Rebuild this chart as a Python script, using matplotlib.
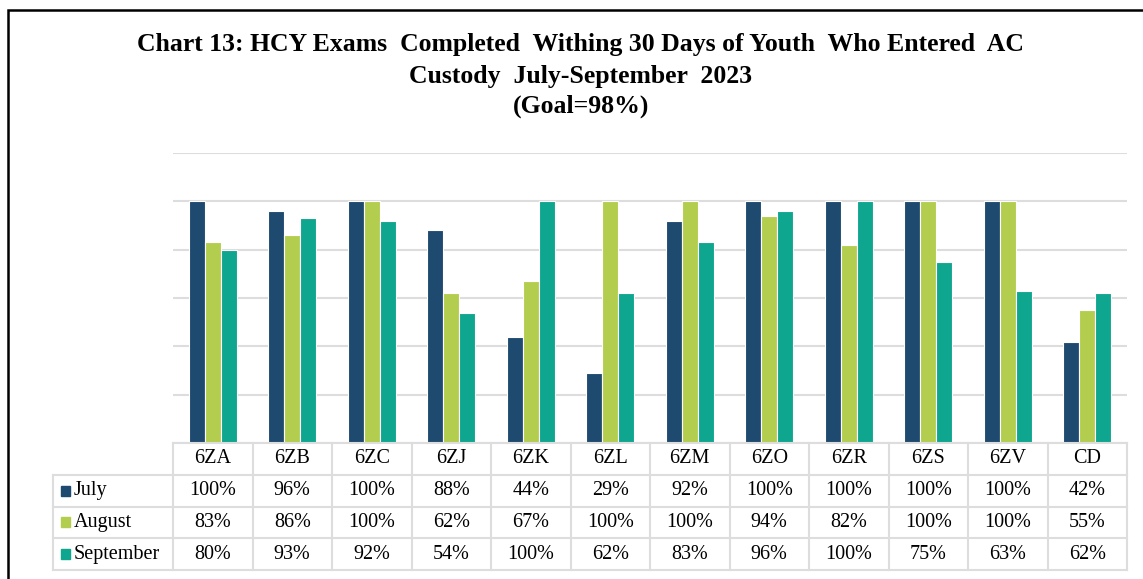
import matplotlib.pyplot as plt
import numpy as np
from matplotlib.patches import Rectangle

sites = ['6ZA', '6ZB', '6ZC', '6ZJ', '6ZK', '6ZL', '6ZM', '6ZO', '6ZR', '6ZS', '6ZV', 'CD']
july = [100, 96, 100, 88, 44, 29, 92, 100, 100, 100, 100, 42]
august = [83, 86, 100, 62, 67, 100, 100, 94, 82, 100, 100, 55]
september = [80, 93, 92, 54, 100, 62, 83, 96, 100, 75, 63, 62]

series = [('July', july, '#1F4A70'),
          ('August', august, '#B3CE4F'),
          ('September', september, '#0FA690')]

W, H = 1143, 579
fig = plt.figure(figsize=(W / 100, H / 100), dpi=100)
plt.rcParams['font.family'] = 'Liberation Serif'

# outer frame (top and left edges visible)
fig.add_artist(Rectangle((8 / W, -0.1), 1.2, 1.1 - 10 / H, transform=fig.transFigure,
                         fill=False, edgecolor='black', linewidth=1.8))

title_lines = ['Chart 13: HCY Exams  Completed  Withing 30 Days of Youth  Who Entered  AC',
               'Custody  July-September  2023',
               '(Goal=98%)']
for ty, t in zip([45, 76, 106], title_lines):
    fig.text(0.508, 1 - ty / H, t, ha='center', va='center', fontsize=18.5, fontweight='bold')

left, right = 173, 1127
ax = fig.add_axes([left / W, 1 - 443 / H, (right - left) / W, (443 - 153) / H])
x = np.arange(len(sites))
w = 0.2
for i, (name, vals, col) in enumerate(series):
    ax.bar(x + (i - 1) * w, vals, w, color=col, edgecolor='white', linewidth=0.8, zorder=3)
ax.set_xlim(-0.5, len(sites) - 0.5)
ax.set_ylim(0, 120)
ax.set_yticks(range(0, 121, 20))
ax.yaxis.grid(True, color='#DDDDDD', linewidth=1.5)
ax.set_xticks([])
ax.tick_params(left=False, labelleft=False)
for s in ax.spines.values():
    s.set_visible(False)

# data table
col_px = (right - left) / len(sites)
lab_w = (173 - 53) / col_px
tab = fig.add_axes([53 / W, 1 - 570 / H, (right - 53) / W, (570 - 443) / H])
tab.set_xlim(-0.5 - lab_w, len(sites) - 0.5)
tab.set_ylim(4, 0)
tab.axis('off')
gc = '#DDDDDD'
lw = 1.5
tab.plot([-0.5, len(sites) - 0.5], [0, 0], color=gc, lw=lw, clip_on=False)
for r in range(1, 5):
    tab.plot([-0.5 - lab_w, len(sites) - 0.5], [r, r], color=gc, lw=lw, clip_on=False)
for c in range(len(sites) + 1):
    tab.plot([c - 0.5, c - 0.5], [0, 4], color=gc, lw=lw, clip_on=False)
tab.plot([-0.5 - lab_w, -0.5 - lab_w], [1, 4], color=gc, lw=lw, clip_on=False)

for j, s in enumerate(sites):
    tab.text(j, 0.5, s, ha='center', va='center', fontsize=14.5)
x0 = -0.5 - lab_w
for i, (name, vals, col) in enumerate(series):
    tab.add_patch(Rectangle((x0 + 8 / col_px, i + 1.34), 9 / col_px, 0.32, color=col))
    tab.text(x0 + 21 / col_px, i + 1.5, name, ha='left', va='center', fontsize=14.5)
    for j, v in enumerate(vals):
        tab.text(j, i + 1.5, f'{v}%', ha='center', va='center', fontsize=14.5)

fig.savefig('out.png', dpi=100)
